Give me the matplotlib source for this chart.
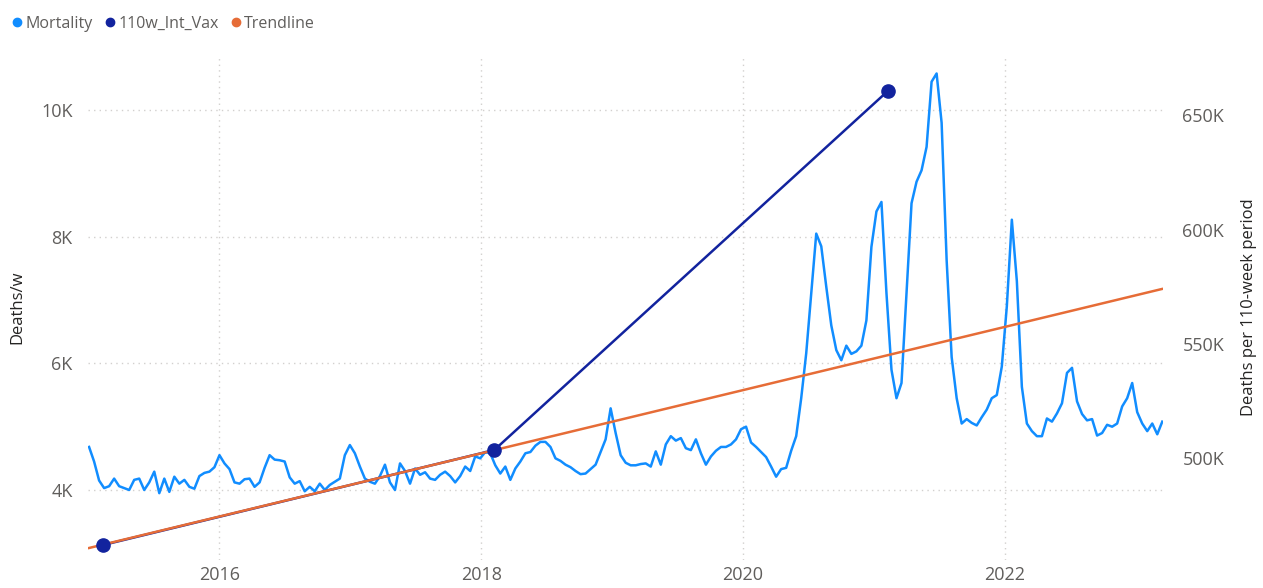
import matplotlib

matplotlib.use("Agg")
import matplotlib.pyplot as plt
from matplotlib.lines import Line2D
import pandas as pd

plt.rcParams["font.family"] = ["Open Sans", "DejaVu Sans"]

# weekly deaths, sampled every 14 days from 2015-01-02
mortality = [
    4680, 4450, 4150, 4030, 4060, 4180, 4060, 4030, 4000, 4160,
    4180, 4000, 4120, 4290, 3950, 4180, 3970, 4210, 4100, 4160,
    4050, 4020, 4220, 4270, 4290, 4360, 4550, 4420, 4330, 4120,
    4100, 4170, 4180, 4050, 4120, 4350, 4550, 4480, 4470, 4450,
    4200, 4100, 4140, 3980, 4050, 3980, 4100, 4000, 4080, 4130,
    4180, 4550, 4710, 4580, 4370, 4180, 4130, 4100, 4220, 4400,
    4120, 4000, 4420, 4300, 4100, 4340, 4240, 4280, 4180, 4160,
    4240, 4290, 4220, 4120, 4220, 4370, 4300, 4530, 4500, 4600,
    4580, 4390, 4260, 4370, 4160, 4340, 4450, 4580, 4600, 4700,
    4760, 4760, 4680, 4500, 4460, 4400, 4360, 4300, 4250, 4260,
    4330, 4400, 4600, 4800, 5290, 4900, 4550, 4430, 4390, 4390,
    4410, 4420, 4370, 4610, 4400, 4720, 4850, 4780, 4820, 4660,
    4630, 4800, 4580, 4400, 4530, 4620, 4680, 4680, 4720, 4800,
    4960, 5000, 4750, 4680, 4600, 4520, 4370, 4210, 4330, 4350,
    4620, 4850, 5450, 6160, 7110, 8050, 7850, 7210, 6600, 6210,
    6050, 6280, 6150, 6190, 6280, 6680, 7840, 8400, 8550, 7110,
    5900, 5450, 5690, 7100, 8530, 8870, 9050, 9420, 10450, 10580,
    9800, 7630, 6100, 5450, 5050, 5120, 5060, 5020, 5150, 5270,
    5450, 5500, 5950, 6900, 8270, 7300, 5630, 5050, 4930, 4850,
    4850, 5130, 5080, 5210, 5370, 5850, 5930, 5400, 5200, 5100,
    5120, 4860, 4900, 5030, 5000, 5050, 5320, 5450, 5690, 5230,
    5050, 4930, 5050, 4880, 5080,
]
dates = pd.date_range("2015-01-02", periods=len(mortality), freq="14D")

vax_dates = pd.to_datetime(["2015-02-10", "2018-02-06", "2021-02-10"])
vax_values = [462100, 503600, 660700]

trend_dates = pd.to_datetime(["2015-01-02", "2023-03-16"])
trend_values = [460800, 574000]

left_ticks = [4000, 6000, 8000, 10000]
right_ticks = [500000, 550000, 600000, 650000]
year_ticks = pd.to_datetime(["2016-01-01", "2018-01-01", "2020-01-01", "2022-01-01"])

BLUE = "#118DFF"
NAVY = "#12239E"
ORANGE = "#E66C37"
TXT = "#605E5C"
GRID = "#D2D0CE"

W, H = 1263, 588
fig = plt.figure(figsize=(W / 100, H / 100), dpi=100)
ax = fig.add_axes([88 / W, (H - 560) / H, (1163 - 88) / W, 505 / H])
ax2 = ax.twinx()

ax.plot(dates, mortality, color=BLUE, lw=1.8, zorder=3)
# vax line under the trendline, dots on top
ax2.plot(vax_dates, vax_values, color=NAVY, lw=1.8, zorder=3)
ax2.plot(trend_dates, trend_values, color=ORANGE, lw=1.8, zorder=4)
ax2.plot(vax_dates, vax_values, color=NAVY, ls="", marker="o", ms=9.5, zorder=5)

ax.set_xlim(pd.Timestamp("2014-12-30"), pd.Timestamp("2023-03-19"))
ax.set_ylim(2894, 10872)
ax2.set_ylim(455550, 676270)

ax.set_yticks(left_ticks)
ax.set_yticklabels([f"{v // 1000}K" for v in left_ticks])
ax2.set_yticks(right_ticks)
ax2.set_yticklabels([f"{v // 1000}K" for v in right_ticks])
ax.set_xticks(year_ticks)
ax.set_xticklabels([str(d.year) for d in year_ticks])

for a in (ax, ax2):
    for s in a.spines.values():
        s.set_visible(False)
    a.tick_params(length=0, labelsize=13, labelcolor=TXT)
ax.tick_params(axis="y", pad=11)
ax2.tick_params(axis="y", pad=14)
ax.tick_params(axis="x", pad=4)

ax.grid(True, color=GRID, lw=1, linestyle=(0, (1, 3)))

ax.set_ylabel("Deaths/w", fontsize=12, color="#252423")
ax.yaxis.set_label_coords(-0.058, 0.5)
ax2.set_ylabel("Deaths per 110-week period", fontsize=12, color="#252423", labelpad=12)

handles = [
    Line2D([], [], marker="o", ls="", color=BLUE, ms=6),
    Line2D([], [], marker="o", ls="", color=NAVY, ms=6),
    Line2D([], [], marker="o", ls="", color=ORANGE, ms=6),
]
fig.legend(handles, ["Mortality", "110w_Int_Vax", "Trendline"], loc="upper left",
           bbox_to_anchor=(-0.004, 0.998), ncol=3, frameon=False, fontsize=11.5,
           handletextpad=0.0, columnspacing=0.6, handlelength=1.0, labelcolor=TXT)

fig.savefig("out.png", dpi=100)
